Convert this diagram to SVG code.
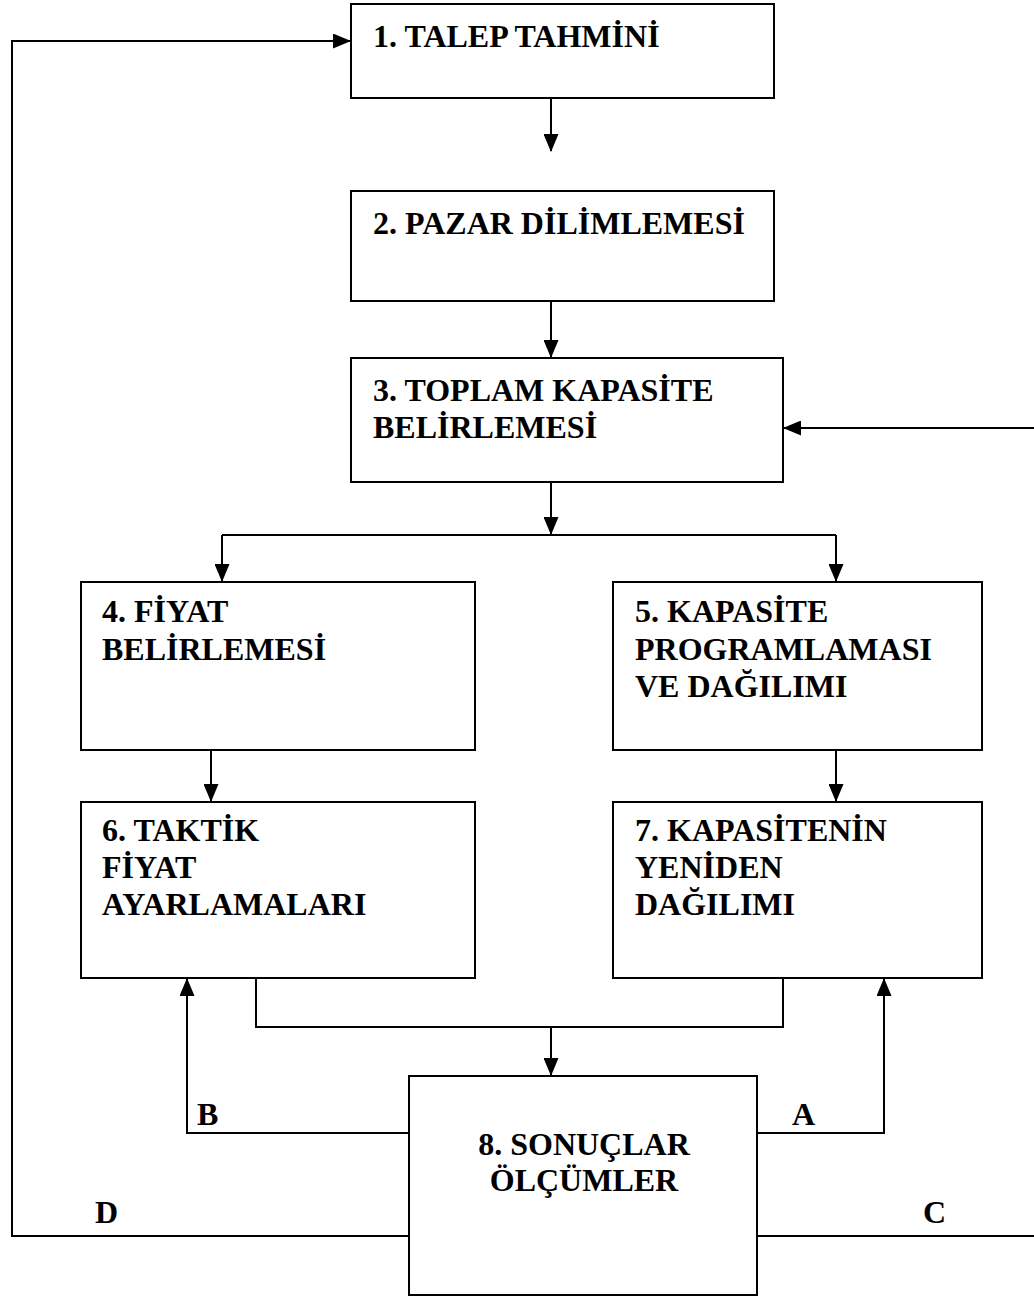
<svg xmlns="http://www.w3.org/2000/svg" width="1034" height="1296" viewBox="0 0 1034 1296">
<style>
.box{fill:#fff;stroke:#000;stroke-width:2}
.t{font-family:"Liberation Serif","Times New Roman",serif;font-weight:bold;font-size:32px;fill:#000}
.c{fill:none;stroke:#000;stroke-width:2}
.a{marker-end:url(#ah)}
</style>
<defs>
<marker id="ah" viewBox="0 0 18 15" refX="17" refY="7.5" markerWidth="18" markerHeight="15" markerUnits="userSpaceOnUse" orient="auto">
<path d="M0,0 L18,7.5 L0,15 z" fill="#000"/>
</marker>
</defs>
<g id="connectors">
<path class="c a" d="M551,98 V151"/>
<path class="c a" d="M551,301 V357"/>
<path class="c a" d="M551,483 V534"/>
<path class="c" d="M222,535 H836"/>
<path class="c a" d="M222,535 V581"/>
<path class="c a" d="M836,535 V581"/>
<path class="c a" d="M211,751 V801"/>
<path class="c a" d="M836,751 V801"/>
<path class="c" d="M256,979 V1027 H783 V979"/>
<path class="c a" d="M551,1027 V1075"/>
<path class="c a" d="M409,1133 H187 V979"/>
<path class="c a" d="M757,1133 H884 V979"/>
<path class="c a" d="M409,1236 H12 V41 H350"/>
<path class="c a" d="M757,1236 H1040 V428 H784"/>
</g>
<g id="node1"><rect class="box" x="351" y="4" width="423" height="94"/><text class="t" x="373" y="47">1. TALEP TAHMİNİ</text></g>
<g id="node2"><rect class="box" x="351" y="191" width="423" height="110"/><text class="t" x="373" y="234">2. PAZAR DİLİMLEMESİ</text></g>
<g id="node3"><rect class="box" x="351" y="358" width="432" height="124"/><text class="t" x="373" y="401">3. TOPLAM KAPASİTE</text><text class="t" x="373" y="438">BELİRLEMESİ</text></g>
<g id="node4"><rect class="box" x="81" y="582" width="394" height="168"/><text class="t" x="102" y="622">4. FİYAT</text><text class="t" x="102" y="660">BELİRLEMESİ</text></g>
<g id="node5"><rect class="box" x="613" y="582" width="369" height="168"/><text class="t" x="635" y="622">5. KAPASİTE</text><text class="t" x="635" y="660">PROGRAMLAMASI</text><text class="t" x="635" y="697">VE DAĞILIMI</text></g>
<g id="node6"><rect class="box" x="81" y="802" width="394" height="176"/><text class="t" x="102" y="841">6. TAKTİK</text><text class="t" x="102" y="878">FİYAT</text><text class="t" x="102" y="915">AYARLAMALARI</text></g>
<g id="node7"><rect class="box" x="613" y="802" width="369" height="176"/><text class="t" x="635" y="841">7. KAPASİTENİN</text><text class="t" x="635" y="878">YENİDEN</text><text class="t" x="635" y="915">DAĞILIMI</text></g>
<g id="node8"><rect class="box" x="409" y="1076" width="348" height="219"/><text class="t" x="584" y="1155" text-anchor="middle">8. SONUÇLAR</text><text class="t" x="584" y="1191" text-anchor="middle">ÖLÇÜMLER</text></g>
<g id="labels">
<text class="t" x="197" y="1125">B</text>
<text class="t" x="792" y="1125">A</text>
<text class="t" x="95" y="1223">D</text>
<text class="t" x="923" y="1223">C</text>
</g>
</svg>
